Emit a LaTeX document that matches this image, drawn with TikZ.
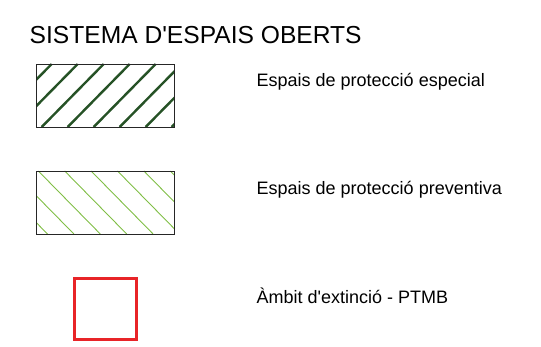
\documentclass[tikz,border=0pt]{standalone}
\usepackage{fontspec}
\setmainfont{Liberation Sans}
\usetikzlibrary{positioning}

\definecolor{verdFosc}{RGB}{38,82,38}
\definecolor{verdClar}{RGB}{128,190,70}
\definecolor{vermellPTMB}{RGB}{232,36,40}

\tikzset{
  caixa/.style={draw=black!85, line width=0.9pt, inner sep=0pt,
    minimum width=138pt, minimum height=63pt},
  ratllaFosca/.style={verdFosc, line width=2.4pt},
  ratllaClara/.style={verdClar, line width=0.9pt},
  etiqueta/.style={anchor=base west, inner sep=0pt, font=\fontsize{18}{20}\selectfont},
}

\begin{document}
\begin{tikzpicture}[x=1pt,y=-1pt]
  \useasboundingbox (0,0) rectangle (541,347);

  % titol
  \node[anchor=base west, inner sep=0pt, font=\fontsize{24.6}{28}\selectfont]
    (titol) at (29.5,43.3) {SISTEMA D\textquotesingle ESPAIS OBERTS};

  % proteccio especial
  \node[caixa, path picture={
      \foreach \k in {-2,...,5}
        \draw[ratllaFosca] ([xshift=5.7pt+\k*26pt]path picture bounding box.south west) -- ++(62,-63);
    }] (especial) at (105,95.5) {};
  \node[etiqueta] (txtEspecial) at (256.5,86.5) {Espais de protecció especial};

  % proteccio preventiva
  \node[caixa, path picture={
      \foreach \k in {-2,...,5}
        \draw[ratllaClara] ([xshift=2.3pt+\k*26.4pt]path picture bounding box.north west) -- ++(62,63);
    }] (preventiva) at (105,202.5) {};
  \node[etiqueta] (txtPreventiva) at (256.5,194.5) {Espais de protecció preventiva};

  % ambit PTMB
  \node[draw=vermellPTMB, line width=3.2pt, inner sep=0pt, minimum width=62pt,
    minimum height=61pt] (ptmb) at (105.5,309) {};
  \node[etiqueta] (txtPtmb) at (256.5,304) {Àmbit d\textquotesingle extinció - PTMB};
\end{tikzpicture}
\end{document}
